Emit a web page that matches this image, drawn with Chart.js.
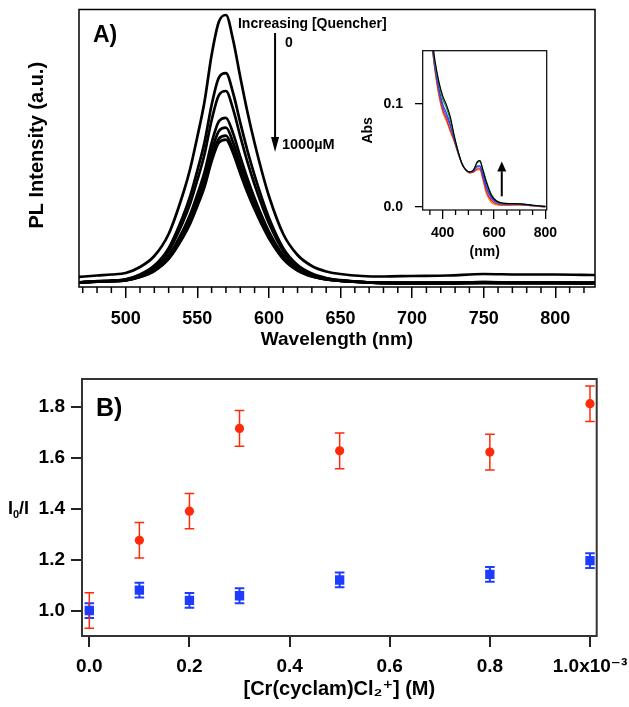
<!DOCTYPE html>
<html>
<head>
<meta charset="utf-8">
<script src="https://cdn.jsdelivr.net/npm/chart.js@4.4.1/dist/chart.umd.min.js"></script>
<style>
  html, body { margin: 0; padding: 0; background: #fff; }
  #wrap { position: relative; width: 629px; height: 707px; overflow: hidden; }
  canvas { position: absolute; }
  #plA { left: 0; top: 0; }
  #inset { left: 355px; top: 40px; }
  #plB { left: 0; top: 355px; }
</style>
</head>
<body>
<div id="wrap">
  <canvas id="plA" width="629" height="355"></canvas>
  <canvas id="inset" width="210" height="230"></canvas>
  <canvas id="plB" width="629" height="352"></canvas>
</div>
<script>
// panel A - PL spectra, one curve per quencher concentration (0 ... 1000 uM)
const wl = [467, 480, 490, 500, 510, 520, 530, 540, 545, 550, 555, 560, 565, 570, 575, 580, 585, 590, 595, 600,
  610, 620, 630, 640, 650, 665, 680, 700, 725, 750, 775, 800, 828];
const pl0 = [0.10, 0.115, 0.125, 0.14, 0.20, 0.31, 0.53, 0.93, 1.18, 1.50, 1.85, 2.32, 2.65, 2.72, 2.47, 2.10, 1.75, 1.44, 1.16, 0.91,
  0.53, 0.32, 0.21, 0.155, 0.13, 0.11, 0.105, 0.11, 0.115, 0.13, 0.125, 0.125, 0.12];
const pl1 = [0.045, 0.058, 0.064, 0.077, 0.125, 0.214, 0.389, 0.708, 0.908, 1.163, 1.444, 1.820, 2.092, 2.138, 1.940, 1.644, 1.364, 1.117, 0.893, 0.693,
  0.389, 0.220, 0.134, 0.089, 0.068, 0.05, 0.045, 0.045, 0.045, 0.05, 0.045, 0.045, 0.045];
const pl2 = [0.045, 0.057, 0.062, 0.074, 0.118, 0.199, 0.360, 0.651, 0.834, 1.068, 1.325, 1.668, 1.917, 1.960, 1.778, 1.508, 1.251, 1.025, 0.821, 0.638,
  0.360, 0.205, 0.126, 0.086, 0.066, 0.05, 0.045, 0.043, 0.043, 0.048, 0.045, 0.045, 0.043];
const pl3 = [0.045, 0.055, 0.060, 0.070, 0.108, 0.178, 0.316, 0.566, 0.724, 0.925, 1.146, 1.441, 1.655, 1.692, 1.536, 1.303, 1.083, 0.888, 0.712, 0.555,
  0.316, 0.183, 0.115, 0.080, 0.063, 0.05, 0.042, 0.040, 0.040, 0.045, 0.042, 0.042, 0.040];
const pl4 = [0.045, 0.054, 0.059, 0.068, 0.104, 0.170, 0.299, 0.535, 0.683, 0.872, 1.079, 1.357, 1.558, 1.593, 1.446, 1.227, 1.020, 0.837, 0.672, 0.524,
  0.299, 0.174, 0.111, 0.078, 0.062, 0.05, 0.040, 0.038, 0.038, 0.042, 0.040, 0.040, 0.038];
const pl5 = [0.045, 0.054, 0.058, 0.067, 0.101, 0.163, 0.286, 0.510, 0.650, 0.829, 1.026, 1.290, 1.481, 1.513, 1.374, 1.167, 0.970, 0.797, 0.640, 0.499,
  0.286, 0.168, 0.107, 0.076, 0.061, 0.048, 0.038, 0.036, 0.036, 0.040, 0.038, 0.038, 0.036];
const pl6 = [0.045, 0.054, 0.058, 0.067, 0.100, 0.160, 0.280, 0.497, 0.634, 0.808, 1.000, 1.256, 1.442, 1.474, 1.338, 1.136, 0.945, 0.777, 0.624, 0.487,
  0.280, 0.165, 0.105, 0.075, 0.061, 0.048, 0.038, 0.036, 0.036, 0.040, 0.038, 0.038, 0.036];
const xTicksA = [500, 550, 600, 650, 700, 750, 800];
const xMinorA = [470, 480, 490, 510, 520, 530, 540, 560, 570, 580, 590, 610, 620, 630, 640, 660, 670, 680, 690,
  710, 720, 730, 740, 760, 770, 780, 790, 810, 820];

// inset - absorbance
const nm = [355, 370, 385, 400, 415, 430, 445, 460, 475, 490, 505, 520, 535, 545, 555, 570, 590, 610, 640, 700, 750, 800];
const absBlack = [0.170, 0.142, 0.122, 0.108, 0.099, 0.087, 0.069, 0.054, 0.042, 0.036, 0.034, 0.036, 0.044, 0.045, 0.037, 0.024, 0.011, 0.0055, 0.0035, 0.003, 0.0016, 0.0005];
const absGreen = [0.168, 0.140, 0.120, 0.105, 0.096, 0.084, 0.068, 0.054, 0.042, 0.036, 0.034, 0.036, 0.043, 0.044, 0.038, 0.025, 0.012, 0.006, 0.0035, 0.003, 0.0015, 0.0004];
const absBlue = [0.166, 0.137, 0.116, 0.100, 0.091, 0.080, 0.066, 0.053, 0.042, 0.036, 0.034, 0.035, 0.040, 0.040, 0.033, 0.020, 0.009, 0.005, 0.003, 0.0028, 0.0015, 0.0005];
const absPurple = [0.165, 0.135, 0.113, 0.097, 0.088, 0.078, 0.065, 0.053, 0.042, 0.036, 0.034, 0.035, 0.039, 0.039, 0.031, 0.018, 0.008, 0.004, 0.0025, 0.0025, 0.0012, 0.0003];
const absRed = [0.164, 0.133, 0.110, 0.094, 0.085, 0.074, 0.064, 0.052, 0.042, 0.036, 0.033, 0.034, 0.037, 0.037, 0.029, 0.015, 0.006, 0.003, 0.002, 0.002, 0.001, 0.0];
const absOrange = [0.163, 0.132, 0.108, 0.092, 0.083, 0.073, 0.063, 0.052, 0.042, 0.036, 0.033, 0.034, 0.036, 0.036, 0.028, 0.013, 0.004, 0.002, 0.0015, 0.002, 0.001, 0.0];
const xTicksIn = [400, 600, 800];
const xMinorIn = [350, 450, 500, 550, 650, 700, 750];
const yTicksIn = [0, 0.1];

// panel B - Stern-Volmer
const conc = [0, 0.0001, 0.0002, 0.0003, 0.0005, 0.0008, 0.001];
const ratioRed = [1.00, 1.276, 1.39, 1.715, 1.627, 1.622, 1.812];
const errRed = [0.07, 0.07, 0.069, 0.07, 0.07, 0.07, 0.07];
const ratioBlue = [1.00, 1.08, 1.04, 1.058, 1.12, 1.142, 1.196];
const errBlue = [0.029, 0.029, 0.029, 0.029, 0.029, 0.029, 0.029];
const xTicksB = [0, 0.0002, 0.0004, 0.0006, 0.0008, 0.001];
const xLabelsB = ['0.0', '0.2', '0.4', '0.6', '0.8', '1.0x10⁻³'];
const yTicksB = [1.0, 1.2, 1.4, 1.6, 1.8];

const FONT = "'Liberation Sans', Arial, 'DejaVu Sans', sans-serif";
const RED = '#ff2a0a';
const BLUE = '#1d3cff';

Chart.defaults.font.family = FONT;
Chart.defaults.font.weight = 'bold';
Chart.defaults.color = '#000';
Chart.defaults.animation = false;
Chart.defaults.responsive = false;
Chart.defaults.plugins.legend.display = false;
Chart.defaults.plugins.tooltip.enabled = false;

const pts = (xs, ys) => xs.map((v, i) => ({ x: v, y: ys[i] }));
const setTicks = (vals) => (s) => { s.ticks = vals.map(v => ({ value: v })); };
// fixed axis box, and no extra room asked for the end labels
const fixH = (h) => (s) => { s.height = h; s.paddingLeft = 0; s.paddingRight = 0; };
const fixW = (w) => (s) => { s.width = w; s.paddingTop = 0; s.paddingBottom = 0; };

// box around the plot area
const frame = {
  id: 'frame',
  afterDraw(chart, args, opts) {
    const { ctx, chartArea: a } = chart;
    ctx.save();
    ctx.strokeStyle = opts.color;
    ctx.lineWidth = opts.width;
    ctx.strokeRect(a.left, a.top, a.right - a.left, a.bottom - a.top);
    ctx.restore();
  }
};

// short unlabelled ticks on the x axis
const minorTicks = {
  id: 'minorTicks',
  afterDraw(chart, args, opts) {
    if (!opts.values) return;
    const s = chart.scales.x;
    const ctx = chart.ctx;
    ctx.save();
    ctx.strokeStyle = '#000';
    ctx.lineWidth = opts.width;
    ctx.beginPath();
    opts.values.forEach(v => {
      const px = s.getPixelForValue(v);
      ctx.moveTo(px, s.top);
      ctx.lineTo(px, s.top + opts.length);
    });
    ctx.stroke();
    ctx.restore();
  }
};

function vArrow(ctx, x, y0, y1, head, half) {
  const dir = Math.sign(y1 - y0);
  ctx.beginPath();
  ctx.moveTo(x, y0);
  ctx.lineTo(x, y1 - dir * head);
  ctx.stroke();
  ctx.beginPath();
  ctx.moveTo(x, y1);
  ctx.lineTo(x - half, y1 - dir * head);
  ctx.lineTo(x + half, y1 - dir * head);
  ctx.closePath();
  ctx.fill();
}

const notesA = {
  id: 'notesA',
  afterDraw(chart) {
    const { ctx, chartArea: a, scales: { x, y } } = chart;
    ctx.save();
    ctx.fillStyle = '#000';
    ctx.strokeStyle = '#000';
    ctx.textBaseline = 'middle';
    ctx.font = 'bold 23px ' + FONT;
    ctx.fillText('A)', a.left + 14, a.top + 26);
    ctx.font = 'bold 14px ' + FONT;
    ctx.fillText('Increasing [Quencher]', x.getPixelForValue(578.4), y.getPixelForValue(2.63));
    ctx.fillText('0', x.getPixelForValue(611.2), y.getPixelForValue(2.44));
    ctx.font = 'bold 14.5px ' + FONT;
    ctx.fillText('1000µM', x.getPixelForValue(609.1), y.getPixelForValue(1.42));
    ctx.lineWidth = 2;
    vArrow(ctx, x.getPixelForValue(604.3), y.getPixelForValue(2.54), y.getPixelForValue(1.35), 15, 4);
    // y title
    ctx.translate(37, (a.top + a.bottom) / 2 - 3);
    ctx.rotate(-Math.PI / 2);
    ctx.textAlign = 'center';
    ctx.font = 'bold 20px ' + FONT;
    ctx.fillText('PL Intensity (a.u.)', 0, 0);
    ctx.restore();
  }
};

const notesIn = {
  id: 'notesIn',
  afterDraw(chart) {
    const { ctx, scales: { x, y } } = chart;
    ctx.save();
    ctx.fillStyle = '#000';
    ctx.strokeStyle = '#000';
    ctx.lineWidth = 2;
    vArrow(ctx, x.getPixelForValue(630), y.getPixelForValue(0.0103), y.getPixelForValue(0.0443), 10, 4.5);
    ctx.restore();
  }
};

const errorBars = {
  id: 'errorBars',
  beforeDatasetsDraw(chart) {
    const { ctx, scales: { x, y } } = chart;
    chart.data.datasets.forEach(ds => {
      ctx.save();
      ctx.strokeStyle = ds.borderColor;
      ctx.lineWidth = ds.errWidth;
      ctx.beginPath();
      ds.data.forEach((p, i) => {
        const px = x.getPixelForValue(p.x);
        const top = y.getPixelForValue(p.y + ds.err[i]);
        const bot = y.getPixelForValue(p.y - ds.err[i]);
        ctx.moveTo(px, top); ctx.lineTo(px, bot);
        ctx.moveTo(px - 4.8, top); ctx.lineTo(px + 4.8, top);
        ctx.moveTo(px - 4.8, bot); ctx.lineTo(px + 4.8, bot);
      });
      ctx.stroke();
      ctx.restore();
    });
  }
};

const notesB = {
  id: 'notesB',
  afterDraw(chart) {
    const { ctx, chartArea: a, scales: { y } } = chart;
    ctx.save();
    ctx.fillStyle = '#000';
    ctx.textBaseline = 'middle';
    ctx.font = 'bold 25px ' + FONT;
    ctx.fillText('B)', a.left + 14, a.top + 30);
    // I0/I with a subscript zero
    const yy = y.getPixelForValue(1.4);
    let xx = 8;
    ctx.font = 'bold 18px ' + FONT;
    ctx.fillText('I', xx, yy);
    xx += ctx.measureText('I').width;
    ctx.font = 'bold 11px ' + FONT;
    ctx.fillText('0', xx, yy + 6);
    xx += ctx.measureText('0').width;
    ctx.font = 'bold 18px ' + FONT;
    ctx.fillText('/I', xx, yy);
    ctx.restore();
  }
};

// ---------- panel A ----------
new Chart(document.getElementById('plA'), {
  type: 'line',
  data: {
    datasets: [pl0, pl1, pl2, pl3, pl4, pl5, pl6].map(d => ({
      data: pts(wl, d),
      borderColor: '#000',
      borderWidth: 2.7,
      pointRadius: 0,
      cubicInterpolationMode: 'monotone'
    }))
  },
  options: {
    layout: { padding: { left: 0, top: 9.5, right: 34, bottom: 0 } },
    scales: {
      x: {
        type: 'linear', min: 467.4, max: 827.7,
        afterBuildTicks: setTicks(xTicksA),
        afterFit: fixH(68),
        grid: { drawOnChartArea: false, tickLength: 11, tickColor: '#000', lineWidth: 1.5 },
        border: { display: false },
        ticks: { font: { size: 18 }, padding: 10, maxRotation: 0, autoSkip: false, callback: v => String(v) },
        title: { display: true, text: 'Wavelength (nm)', font: { size: 19 }, padding: { top: 0, bottom: 4 } }
      },
      y: {
        min: 0, max: 2.775,
        afterFit: fixW(79),
        grid: { display: false },
        border: { display: false },
        ticks: { display: false }
      }
    },
    plugins: {
      frame: { color: '#000', width: 1.5 },
      minorTicks: { values: xMinorA, length: 6, width: 1.5 }
    }
  },
  plugins: [frame, minorTicks, notesA]
});

// ---------- inset ----------
const insetSeries = [
  [absBlack, '#000000'], [absGreen, '#1e9a32'], [absBlue, '#1f3fff'],
  [absPurple, '#7a3cc8'], [absRed, '#e8231a'], [absOrange, '#ff8a1a']
];
new Chart(document.getElementById('inset'), {
  type: 'line',
  data: {
    datasets: insetSeries.map(([d, c]) => ({
      data: pts(nm, d),
      borderColor: c,
      borderWidth: 1.2,
      pointRadius: 0,
      cubicInterpolationMode: 'monotone'
    }))
  },
  options: {
    layout: { padding: { left: 0, top: 10.7, right: 18.3, bottom: 0 } },
    scales: {
      x: {
        type: 'linear', min: 322, max: 805,
        afterBuildTicks: setTicks(xTicksIn),
        afterFit: fixH(60),
        grid: { drawOnChartArea: false, tickLength: 9, tickColor: '#000', lineWidth: 1.3 },
        border: { display: false },
        ticks: { font: { size: 14 }, padding: 6, maxRotation: 0, autoSkip: false, callback: v => String(v) },
        title: { display: true, text: '(nm)', font: { size: 14 }, padding: { top: 0, bottom: 9 } }
      },
      y: {
        min: -0.003, max: 0.152,
        afterBuildTicks: setTicks(yTicksIn),
        afterFit: fixW(67.7),
        grid: { drawOnChartArea: false, tickLength: 7.7, tickColor: '#000', lineWidth: 1.3 },
        border: { display: false },
        ticks: { font: { size: 14 }, padding: 12, callback: v => v.toFixed(1) },
        title: { display: true, text: 'Abs', font: { size: 14 }, padding: { top: 5, bottom: 0 } }
      }
    },
    plugins: {
      frame: { color: '#000', width: 1.2 },
      minorTicks: { values: xMinorIn, length: 5, width: 1.3 }
    }
  },
  plugins: [frame, minorTicks, notesIn]
});

// ---------- panel B ----------
new Chart(document.getElementById('plB'), {
  type: 'scatter',
  data: {
    datasets: [
      { data: pts(conc, ratioBlue), err: errBlue, errWidth: 2, borderColor: BLUE, backgroundColor: BLUE,
        pointBackgroundColor: BLUE, pointStyle: 'rect', pointRadius: 6.6, pointBorderWidth: 0 },
      { data: pts(conc, ratioRed), err: errRed, errWidth: 1.5, borderColor: RED, backgroundColor: RED,
        pointBackgroundColor: RED, pointStyle: 'circle', pointRadius: 4.6, pointBorderWidth: 0 }
    ]
  },
  options: {
    layout: { padding: { left: 0, top: 24, right: 32.3, bottom: 0 } },
    scales: {
      x: {
        type: 'linear', min: -0.0000146, max: 0.0010134,
        afterBuildTicks: setTicks(xTicksB),
        afterFit: fixH(71),
        grid: { drawOnChartArea: false, tickLength: 11, tickColor: '#222', lineWidth: 2 },
        border: { display: false },
        ticks: { font: { size: 19 }, padding: 8, maxRotation: 0, autoSkip: false, callback: (v, i) => xLabelsB[i] },
        title: { display: true, text: '[Cr(cyclam)Cl₂⁺] (M)', font: { size: 20 }, padding: { top: 0, bottom: 6 } }
      },
      y: {
        min: 0.90, max: 1.909,
        afterBuildTicks: setTicks(yTicksB),
        afterFit: fixW(82),
        grid: { drawOnChartArea: false, tickLength: 11, tickColor: '#222', lineWidth: 2 },
        border: { display: false },
        ticks: { font: { size: 19 }, padding: 6, callback: v => v.toFixed(1) }
      }
    },
    plugins: {
      frame: { color: '#333', width: 2 }
    }
  },
  plugins: [frame, errorBars, notesB]
});
</script>
</body>
</html>
